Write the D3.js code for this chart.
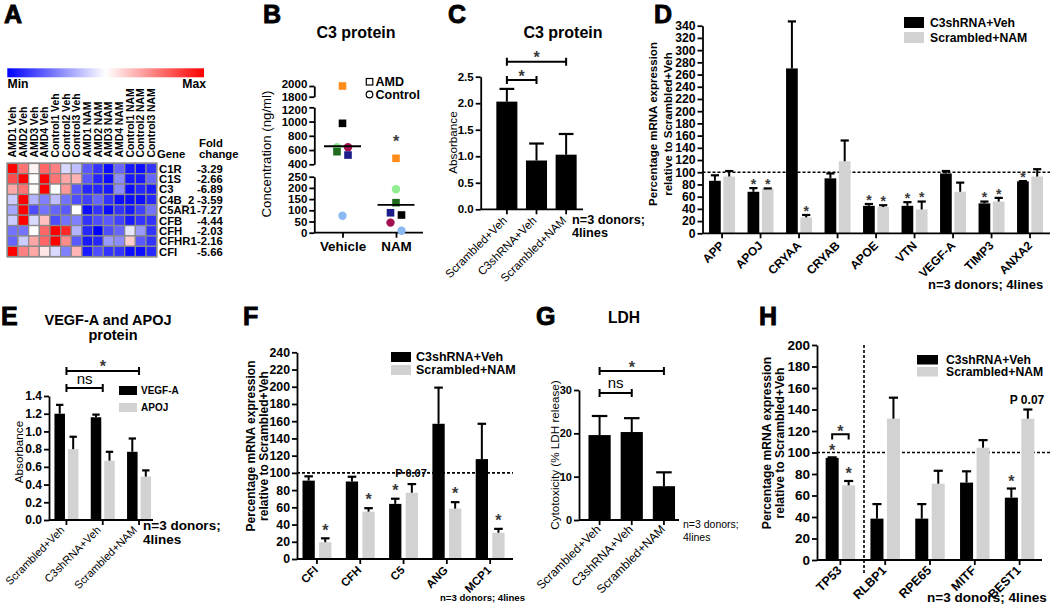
<!DOCTYPE html>
<html><head><meta charset="utf-8">
<script src="https://cdn.jsdelivr.net/npm/d3@7"></script>
<style>
body{margin:0;background:#fff}
svg text{font-family:"Liberation Sans",Arial,sans-serif}
</style></head><body>
<svg id="fig" width="1050" height="613"></svg>
<script>
// ================= DATA =================
// Panel A heatmap
const heatSamples = ["AMD1 Veh","AMD2 Veh","AMD3 Veh","AMD4 Veh","Control1 Veh","Control2 Veh","Control3 Veh","AMD1 NAM","AMD2 NAM","AMD3 NAM","AMD4 NAM","Control1 NAM","Control2 NAM","Control3 NAM"];
const heatGenes = ["C1R","C1S","C3","C4B_2","C5AR1","CFB","CFH","CFHR1","CFI"];
const heatFold = ["-3.29","-2.66","-6.89","-3.59","-7.27","-4.44","-2.03","-2.16","-5.66"];
const heatC1R   = [1.0, 0.55, 0.05, 0.6, 0.5, -0.15, -0.25, -0.65, -0.8, -0.95, -0.6, -0.9, -0.95, -0.8];
const heatC1S   = [0.7, 1.0, 0.0, 1.0, 0.55, 0.35, 0.3, -0.65, -0.85, -0.95, -0.45, -0.9, -0.9, -0.6];
const heatC3    = [0.35, 0.55, 0.02, 1.0, 0.0, 0.4, -0.65, -0.85, -0.85, -0.9, -0.45, -0.95, -0.85, -0.9];
const heatC4B2  = [-0.2, 1.0, -0.3, -0.5, -0.25, -0.55, -0.7, -0.75, -0.6, -0.8, -0.95, -0.95, -0.95, -0.85];
const heatC5AR1 = [-0.35, 1.0, -0.7, -0.55, -0.6, -0.65, 0.0, -0.95, -0.8, -0.95, -0.8, -0.9, -0.75, -0.55];
const heatCFB   = [-0.2, 1.0, -0.15, 0.25, -0.7, -0.55, -0.5, -0.8, -0.7, -0.65, -0.75, -0.9, -0.8, -0.8];
const heatCFH   = [-0.55, -0.55, 0.0, 0.6, 1.0, 0.85, -0.3, -0.85, -1.0, -0.7, -0.6, -0.1, -0.4, -0.8];
const heatCFHR1 = [-0.6, -0.2, 0.35, 0.6, 1.0, 0.45, -0.65, -0.9, -0.85, -0.4, -0.45, 0.2, -0.65, -0.8];
const heatCFI   = [1.0, 0.5, 0.35, 0.1, -0.15, -0.5, 0.3, -0.9, -0.7, -0.8, -0.8, -0.95, -0.95, -0.85];
const heatRows = [heatC1R, heatC1S, heatC3, heatC4B2, heatC5AR1, heatCFB, heatCFH, heatCFHR1, heatCFI];

// Panel B scatter (C3 protein, ng/ml)
const bGroups = ["Vehicle","NAM"];
const bDonorType = ["AMD","AMD","AMD","AMD","Control","Control","Control"];
const bDonorColor = ["#ff8c1a","#000000","#1e6b1e","#1c1c8a","#90ee90","#a3124f","#8ab8f0"];
const bVehicle = [2000, 975, 577, 530, 639, 639, 76];
const bNAM = [484, 79, 134, 89, 194, 45, 9];
const bSummary = [653, 124];
const bTicksTop = [1800, 2000];
const bTicksMid = [400, 600, 800, 1000, 1200];
const bTicksLow = [0, 50, 100, 150, 200, 250];

// Panel C
const cCats = ["Scrambled+Veh","C3shRNA+Veh","Scrambled+NAM"];
const cMean = [2.03, 0.92, 1.03];
const cErr  = [2.27, 1.24, 1.42];
const cTicks = [0, 0.5, 1.0, 1.5, 2.0, 2.5];

// Panel D
const dGenes = ["APP","APOJ","CRYAA","CRYAB","APOE","VTN","VEGF-A","TIMP3","ANXA2"];
const dC3sh    = [86, 68, 270, 90, 45, 45, 98, 49, 85];
const dC3shErr = [95, 74, 347, 98, 48, 51, 102, 52, 85.5];
const dNam     = [93, 73, 26, 118, 43, 39, 68, 52, 93];
const dNamErr  = [102, 73.5, 30, 152, 46, 52, 83, 58, 105];
const dC3shSig = [0, 1, 0, 0, 1, 1, 0, 1, 1];
const dNamSig  = [0, 1, 1, 0, 1, 1, 0, 1, 0];
const dTicks = d3.range(0, 341, 20);

// Panel E
const eCats = ["Scrambled+Veh","C3shRNA+Veh","Scrambled+NAM"];
const eVegf    = [1.2, 1.16, 0.77];
const eVegfErr = [1.3, 1.19, 0.92];
const eApoj    = [0.8, 0.67, 0.49];
const eApojErr = [0.94, 0.77, 0.56];
const eTicks = [0, 0.2, 0.4, 0.6, 0.8, 1.0, 1.2, 1.4];

// Panel F
const fGenes = ["CFI","CFH","C5","ANG","MCP1"];
const fC3sh    = [91, 90, 64, 157, 116];
const fC3shErr = [96, 95.5, 70, 199, 157];
const fNam     = [19.5, 55, 77, 58.5, 30.5];
const fNamErr  = [24, 59, 87, 66, 35];
const fC3shSig = [0, 0, 1, 0, 0];
const fNamSig  = [1, 1, 0, 1, 1];
const fTicks = d3.range(0, 241, 20);

// Panel G
const gCats = ["Scrambled+Veh","C3shRNA+Veh","Scrambled+NAM"];
const gMean = [19.6, 20.3, 7.8];
const gErr  = [24, 23.5, 11];
const gTicks = [0, 10, 20, 30];

// Panel H
const hGenes = ["TP53","RLBP1","RPE65","MITF","BEST1"];
const hC3sh    = [95, 38.5, 38.5, 72, 58];
const hC3shErr = [95.5, 52, 52, 82.5, 66.5];
const hNam     = [69.5, 131.5, 71, 104.5, 131.5];
const hNamErr  = [73.5, 151, 83, 111.5, 140];
const hC3shSig = [1, 0, 0, 0, 1];
const hNamSig  = [1, 0, 0, 0, 0];
const hTicks = d3.range(0, 201, 20);

const seriesNames = ["C3shRNA+Veh","Scrambled+NAM"];
const GREY = "#d2d2d2";
const STAR = "#3a3a3a";

// ================= HELPERS =================
const FONT = '"Liberation Sans", Arial, sans-serif';
const svg = d3.select("#fig");

function txt(g, x, y, s, size, o = {}) {
  return g.append("text").attr("x", x).attr("y", y).text(s)
    .attr("font-size", size).attr("font-weight", o.w || "bold")
    .attr("text-anchor", o.a || "start").attr("fill", o.fill || "#000");
}
function vtxt(g, x, y, s, size, w) {
  return g.append("text").attr("transform", `translate(${x},${y}) rotate(-90)`)
    .attr("text-anchor", "middle").attr("font-size", size).attr("font-weight", w).text(s);
}
function letter(g, x, y, s) {
  txt(g, x, y, s, 25).attr("stroke", "#000").attr("stroke-width", 0.9);
}
function star(g, x, cy, size, fill = STAR) {
  g.append("text").attr("x", x).attr("y", cy + size * 0.56).attr("text-anchor", "middle")
    .attr("font-size", size).attr("font-weight", "bold").attr("fill", fill).text("*");
}
function styleAxis(ax, size, w = "bold") {
  ax.attr("font-family", FONT).attr("font-size", size);
  ax.select(".domain").attr("stroke", "#000").attr("stroke-width", 1.8);
  ax.selectAll(".tick line").attr("stroke", "#000").attr("stroke-width", 1.8);
  ax.selectAll(".tick text").attr("font-size", size).attr("font-weight", w).attr("fill", "#000");
}
function yAxis(g, y, x, ticks, fmt, size) {
  const ax = g.append("g").attr("transform", `translate(${x},0)`)
    .call(d3.axisLeft(y).tickValues(ticks).tickFormat(fmt).tickSize(5).tickSizeOuter(0).tickPadding(2));
  styleAxis(ax, size);
  return ax;
}
function xAxisRot(g, x, y0, xs, xe, size, w, off = [-2, 9]) {
  const ax = g.append("g").attr("transform", `translate(0,${y0})`)
    .call(d3.axisBottom(x).tickSize(5).tickSizeOuter(0));
  styleAxis(ax, size, w);
  ax.select(".domain").attr("d", `M${xs},0H${xe}`);
  ax.selectAll(".tick text").attr("x", 0).attr("y", 0).attr("dy", "0.35em")
    .attr("text-anchor", "end").attr("transform", `translate(${off[0]},${off[1]}) rotate(-45)`);
  return ax;
}
function errBar(g, cx, yTop, yErr, bw) {
  g.append("line").attr("x1", cx).attr("x2", cx).attr("y1", yTop).attr("y2", yErr)
    .attr("stroke", "#000").attr("stroke-width", 2);
  g.append("line").attr("x1", cx - bw * 0.35).attr("x2", cx + bw * 0.35).attr("y1", yErr).attr("y2", yErr)
    .attr("stroke", "#000").attr("stroke-width", 2.2);
}
function bracket(g, x1, x2, y) {
  g.append("path").attr("d", `M${x1},${y - 4}V${y + 4}M${x1},${y}H${x2}M${x2},${y - 4}V${y + 4}`)
    .attr("stroke", "#000").attr("stroke-width", 2).attr("fill", "none");
}
function dashed(g, x1, x2, y1, y2) {
  g.append("line").attr("x1", x1).attr("x2", x2).attr("y1", y1).attr("y2", y2)
    .attr("stroke", "#000").attr("stroke-width", 1.6).attr("stroke-dasharray", "3,2");
}
function legend(g, x, y1, y2, w, h, size, names, tx) {
  g.append("rect").attr("x", x).attr("y", y1).attr("width", w).attr("height", h).attr("fill", "#000");
  g.append("rect").attr("x", x).attr("y", y2).attr("width", w).attr("height", h).attr("fill", GREY);
  txt(g, tx, y1 + h - 1, names[0], size);
  txt(g, tx, y2 + h - 1, names[1], size);
}
// grouped bars
function grouped(g, cfg) {
  const x0 = d3.scaleBand().domain(cfg.cats).range(cfg.xr);
  const x1 = d3.scaleBand().domain([0, 1]).range([cfg.pad, x0.bandwidth() - cfg.pad]).paddingInner(cfg.pin);
  const y = cfg.y;
  const bw = x1.bandwidth();
  const sets = [[cfg.a, cfg.aErr, cfg.aSig, "#000"], [cfg.b, cfg.bErr, cfg.bSig, GREY]];
  sets.forEach(([vals, errs, sig, col], s) => {
    cfg.cats.forEach((c, i) => {
      const bx = x0(c) + x1(s);
      g.append("rect").attr("x", bx).attr("y", y(vals[i])).attr("width", bw)
        .attr("height", y(0) - y(vals[i])).attr("fill", col);
      errBar(g, bx + bw / 2, y(vals[i]), y(errs[i]), bw);
      if (sig && sig[i]) star(g, bx + bw / 2, y(errs[i]) - cfg.starOff, cfg.starSize);
    });
  });
  return { x0, x1 };
}
function simpleBars(g, x, y, cats, vals, errs) {
  cats.forEach((c, i) => {
    g.append("rect").attr("x", x(c)).attr("y", y(vals[i])).attr("width", x.bandwidth())
      .attr("height", y(0) - y(vals[i])).attr("fill", "#000");
    errBar(g, x(c) + x.bandwidth() / 2, y(vals[i]), y(errs[i]), x.bandwidth());
  });
}

// ================= PANEL A =================
const gA = svg.append("g");
letter(gA, 4, 23, "A");
const defs = svg.append("defs");
const lg = defs.append("linearGradient").attr("id", "heatgrad");
lg.append("stop").attr("offset", "0%").attr("stop-color", "#0000ff");
lg.append("stop").attr("offset", "50%").attr("stop-color", "#ffffff");
lg.append("stop").attr("offset", "100%").attr("stop-color", "#ff0000");
gA.append("rect").attr("x", 7.3).attr("y", 68.3).attr("width", 196.7).attr("height", 9).attr("fill", "url(#heatgrad)");
txt(gA, 7.5, 87.5, "Min", 12.2);
txt(gA, 206, 87.5, "Max", 12.2, { a: "end" });

const hx = d3.scaleBand().domain(heatSamples).range([7.3, 156.7]);
const hy = d3.scaleBand().domain(heatGenes).range([163.3, 256.7]);
const hcol = d3.scaleLinear().domain([-1, 0, 1]).range(["#0000ff", "#ffffff", "#ff0000"]);
heatRows.forEach((row, i) => row.forEach((v, j) => {
  gA.append("rect").attr("x", hx(heatSamples[j])).attr("y", hy(heatGenes[i]))
    .attr("width", hx.bandwidth()).attr("height", hy.bandwidth())
    .attr("fill", hcol(v)).attr("stroke", "#8a8a8a").attr("stroke-width", 1.3);
}));
gA.append("rect").attr("x", 7.3).attr("y", 163.3).attr("width", 149.4).attr("height", 93.4)
  .attr("fill", "none").attr("stroke", "#8a8a8a").attr("stroke-width", 1.6);
heatSamples.forEach(s => {
  gA.append("text").attr("transform", `translate(${hx(s) + hx.bandwidth() / 2 + 3.8},157.5) rotate(-90)`)
    .attr("font-size", 10.4).attr("font-weight", "bold").text(s);
});
heatGenes.forEach((gname, i) => {
  const cy = hy(gname) + hy.bandwidth() / 2 + 4.2;
  txt(gA, 159, cy, gname, 11.3);
  txt(gA, 197, cy, heatFold[i], 11.3);
});
txt(gA, 157, 157.5, "Gene", 11.3);
txt(gA, 199, 146.5, "Fold", 11.3);
txt(gA, 199, 158, "change", 11.3);

// ================= PANEL B =================
const gB = svg.append("g");
letter(gB, 263, 23, "B");
txt(gB, 356, 38, "C3 protein", 16, { a: "middle" });
const bSegTop = d3.scaleLinear().domain([1800, 2000]).range([96.7, 86]);
const bSegMid = d3.scaleLinear().domain([400, 1200]).range([164.3, 107.3]);
const bSegLow = d3.scaleLinear().domain([0, 250]).range([232.7, 176.7]);
const bY = v => v >= 1800 ? bSegTop(v) : v >= 400 ? bSegMid(v) : bSegLow(v);
const bAx = 314.3;
const bTop = yAxis(gB, bSegTop, bAx, bTicksTop, d3.format("d"), 11.5);
const bMid = yAxis(gB, bSegMid, bAx, bTicksMid, d3.format("d"), 11.5);
yAxis(gB, bSegLow, bAx, bTicksLow, d3.format("d"), 11.5);
// nudge crowded labels at the break apart
bTop.selectAll(".tick text").attr("dy", d => d === 2000 ? "0.1em" : "0.32em");
bMid.selectAll(".tick text").attr("dy", d => d === 1200 ? "0.5em" : "0.32em");
const bx = d3.scalePoint().domain(bGroups).range([342.5, 396]);
const bxa = gB.append("g").attr("transform", `translate(0,232.7)`)
  .call(d3.axisBottom(bx).tickSize(5).tickSizeOuter(0).tickPadding(4));
styleAxis(bxa, 13.4);
bxa.select(".domain").attr("d", `M${bAx},0H423`);
vtxt(gB, 271, 154, "Concentration (ng/ml)", 13.2, "normal");
// points: clusters of overlapping points alternate left/right
[bVehicle, bNAM].forEach((vals, gi) => {
  const cx = bx(bGroups[gi]);
  const order = d3.range(vals.length).sort((a, b) => vals[b] - vals[a]);
  const clusters = [];
  order.forEach(i => {
    const py = bY(vals[i]);
    const last = clusters[clusters.length - 1];
    if (last && py - last[last.length - 1].py < 9) last.push({ i, py });
    else clusters.push([{ i, py }]);
  });
  clusters.forEach(cl => cl.forEach((p, k) => {
    const off = cl.length === 1 ? 0 : (k % 2 === 0 ? -5.5 : 5.5);
    const i = p.i, py = p.py;
    if (bDonorType[i] === "AMD") {
      gB.append("rect").attr("x", cx + off - 3.8).attr("y", py - 3.8).attr("width", 7.6).attr("height", 7.6).attr("fill", bDonorColor[i]);
    } else {
      gB.append("circle").attr("cx", cx + off).attr("cy", py).attr("r", 4.2).attr("fill", bDonorColor[i]);
    }
  }));
  gB.append("line").attr("x1", cx - 18.5).attr("x2", cx + 18.5).attr("y1", bY(bSummary[gi])).attr("y2", bY(bSummary[gi]))
    .attr("stroke", "#000").attr("stroke-width", 1.8);
});
star(gB, bx("NAM"), 138.5, 16);
gB.append("rect").attr("x", 366.3).attr("y", 78.5).attr("width", 6.5).attr("height", 6.5).attr("fill", "none").attr("stroke", "#000").attr("stroke-width", 1.2);
gB.append("circle").attr("cx", 369.5).attr("cy", 94.5).attr("r", 3.3).attr("fill", "none").attr("stroke", "#000").attr("stroke-width", 1.2);
txt(gB, 375.5, 85.5, "AMD", 12.5);
txt(gB, 375.5, 99, "Control", 12.5);

// ================= PANEL C =================
const gC = svg.append("g");
letter(gC, 448, 23, "C");
txt(gC, 563, 38, "C3 protein", 16, { a: "middle" });
const cy = d3.scaleLinear().domain([0, 2.5]).range([209.3, 76.7]);
const cx = d3.scaleBand().domain(cCats).range([487.75, 585.25]).padding(0.29);
simpleBars(gC, cx, cy, cCats, cMean, cErr);
yAxis(gC, cy, 480.7, cTicks, d3.format(".1f"), 11.5);
xAxisRot(gC, cx, 209.3, 480.7, 583, 11.5, "normal");
vtxt(gC, 457, 142.5, "Absorbance", 11.7, "normal");
const cc = c => cx(c) + cx.bandwidth() / 2;
bracket(gC, cc(cCats[0]), cc(cCats[1]), 80);
bracket(gC, cc(cCats[0]), cc(cCats[2]), 61.7);
star(gC, (cc(cCats[0]) + cc(cCats[1])) / 2, 72.7, 16);
star(gC, (cc(cCats[0]) + cc(cCats[2])) / 2, 54, 16);
txt(gC, 572, 224, "n=3 donors;", 12.7);
txt(gC, 572, 236.5, "4lines", 12.7);

// ================= PANEL D =================
const gD = svg.append("g");
letter(gD, 654, 23, "D");
const dy = d3.scaleLinear().domain([0, 340]).range([233.3, 25.7]);
dashed(gD, 702.5, 1050, dy(100), dy(100));
grouped(gD, { cats: dGenes, xr: [702.8, 1049.3], pad: 6.25, pin: 0.18, y: dy,
  a: dC3sh, aErr: dC3shErr, aSig: dC3shSig, b: dNam, bErr: dNamErr, bSig: dNamSig, starOff: 7, starSize: 14 });
yAxis(gD, dy, 702.5, dTicks, d3.format("d"), 12.2);
xAxisRot(gD, d3.scaleBand().domain(dGenes).range([702.8, 1049.3]).padding(0), 233.3, 702.5, 1050, 12, "bold", [0, 10]);
vtxt(gD, 657, 124, "Percentage mRNA expression", 11.5, "bold");
vtxt(gD, 672, 124, "relative to Scrambled+Veh", 11.5, "bold");
legend(gD, 904, 17, 32, 20, 11, 12.2, seriesNames, 930);
txt(gD, 928, 288.5, "n=3 donors; 4lines", 13);

// ================= PANEL E =================
const gE = svg.append("g");
letter(gE, 1, 325, "E");
txt(gE, 108, 325, "VEGF-A and APOJ", 14.5, { a: "middle" });
txt(gE, 113, 339.5, "protein", 14.5, { a: "middle" });
const ey = d3.scaleLinear().domain([0, 1.4]).range([520, 396]);
grouped(gE, { cats: eCats, xr: [48.3, 157.2], pad: 6.15, pin: 0.22, y: ey,
  a: eVegf, aErr: eVegfErr, aSig: null, b: eApoj, bErr: eApojErr, bSig: null, starOff: 10, starSize: 16 });
yAxis(gE, ey, 49, eTicks, d3.format(".1f"), 12);
const ex = d3.scaleBand().domain(eCats).range([48.3, 157.2]).padding(0);
xAxisRot(gE, ex, 520, 49, 153, 11, "normal", [-4, 8]);
vtxt(gE, 23, 452, "Absorbance", 11.7, "normal");
const ec = c => ex(c) + ex.bandwidth() / 2;
bracket(gE, ec(eCats[0]), ec(eCats[1]), 388);
bracket(gE, ec(eCats[0]), ec(eCats[2]), 371);
txt(gE, (ec(eCats[0]) + ec(eCats[1])) / 2, 384, "ns", 15, { a: "middle", w: "normal" });
star(gE, (ec(eCats[0]) + ec(eCats[2])) / 2, 363.5, 16);
legend(gE, 119, 386, 403, 18, 9, 10, ["VEGF-A", "APOJ"], 141);
txt(gE, 143, 530, "n=3 donors;", 13.5);
txt(gE, 143, 543.5, "4lines", 13.5);

// ================= PANEL F =================
const gF = svg.append("g");
letter(gF, 243, 325, "F");
const fy = d3.scaleLinear().domain([0, 240]).range([559, 352.3]);
dashed(gF, 297, 513, fy(100), fy(100));
grouped(gF, { cats: fGenes, xr: [295.3, 511.8], pad: 7.2, pin: 0.26, y: fy,
  a: fC3sh, aErr: fC3shErr, aSig: fC3shSig, b: fNam, bErr: fNamErr, bSig: fNamSig, starOff: 11.7, starSize: 16 });
yAxis(gF, fy, 297, fTicks, d3.format("d"), 12.3);
xAxisRot(gF, d3.scaleBand().domain(fGenes).range([295.3, 511.8]).padding(0), 559, 297, 513, 11.5, "bold", [-1, 9]);
vtxt(gF, 255, 446, "Percentage mRNA expression", 12, "bold");
vtxt(gF, 268, 446, "relative to Scrambled+Veh", 12, "bold");
txt(gF, 411, 477, "P 0.07", 11, { a: "middle" });
legend(gF, 391, 352, 365, 20, 10, 12.5, seriesNames, 416);
txt(gF, 440, 601, "n=3 donors; 4lines", 9.6);

// ================= PANEL G =================
const gG = svg.append("g");
letter(gG, 536, 325, "G");
txt(gG, 624, 323, "LDH", 15.6, { a: "middle" });
const gy = d3.scaleLinear().domain([0, 30]).range([520, 390]);
const gx = d3.scaleBand().domain(gCats).range([578.5, 685]).padding(0.31);
simpleBars(gG, gx, gy, gCats, gMean, gErr);
yAxis(gG, gy, 579, gTicks, d3.format("d"), 11);
xAxisRot(gG, gx, 520, 579, 679, 12, "normal", [-1, 7]);
vtxt(gG, 559, 455, "Cytotoxicity (% LDH release)", 11.7, "normal");
const gc = c => gx(c) + gx.bandwidth() / 2;
bracket(gG, gc(gCats[0]), gc(gCats[1]), 393);
bracket(gG, gc(gCats[0]), gc(gCats[2]), 371);
txt(gG, (gc(gCats[0]) + gc(gCats[1])) / 2, 387.5, "ns", 15, { a: "middle", w: "normal" });
star(gG, (gc(gCats[0]) + gc(gCats[2])) / 2, 364, 16);
txt(gG, 683, 528, "n=3 donors;", 10.5, { w: "normal" });
txt(gG, 683, 541, "4lines", 10.5, { w: "normal" });

// ================= PANEL H =================
const gH = svg.append("g");
letter(gH, 759, 325, "H");
const hy2 = d3.scaleLinear().domain([0, 200]).range([560, 345]);
dashed(gH, 817, 1050, hy2(100), hy2(100));
dashed(gH, 864, 864, 345, 573);
const hres = grouped(gH, { cats: hGenes, xr: [818, 1042], pad: 7.65, pin: 0.21, y: hy2,
  a: hC3sh, aErr: hC3shErr, aSig: hC3shSig, b: hNam, bErr: hNamErr, bSig: hNamSig, starOff: 10.5, starSize: 16 });
yAxis(gH, hy2, 817, hTicks, d3.format("d"), 13.5);
xAxisRot(gH, d3.scaleBand().domain(hGenes).range([818, 1042]).padding(0), 560, 817, 1042, 12.5, "bold", [-1, 8]);
vtxt(gH, 771, 443, "Percentage mRNA expression", 12.1, "bold");
vtxt(gH, 784, 443, "relative to Scrambled+Veh", 12.1, "bold");
// TP53 bracket
const tpA = hres.x0("TP53") + hres.x1(0) + hres.x1.bandwidth() / 2;
const tpB = hres.x0("TP53") + hres.x1(1) + hres.x1.bandwidth() / 2;
gH.append("path").attr("d", `M${tpA},439.5V434.3H${tpB}V439.5`).attr("stroke", "#000").attr("stroke-width", 2).attr("fill", "none");
star(gH, (tpA + tpB) / 2, 428.3, 16);
txt(gH, 1027, 404, "P 0.07", 12, { a: "middle" });
legend(gH, 917, 355, 367, 21, 9.5, 12.2, seriesNames, 946);
txt(gH, 927, 601.5, "n=3 donors; 4lines", 13.5);
</script>
</body></html>
